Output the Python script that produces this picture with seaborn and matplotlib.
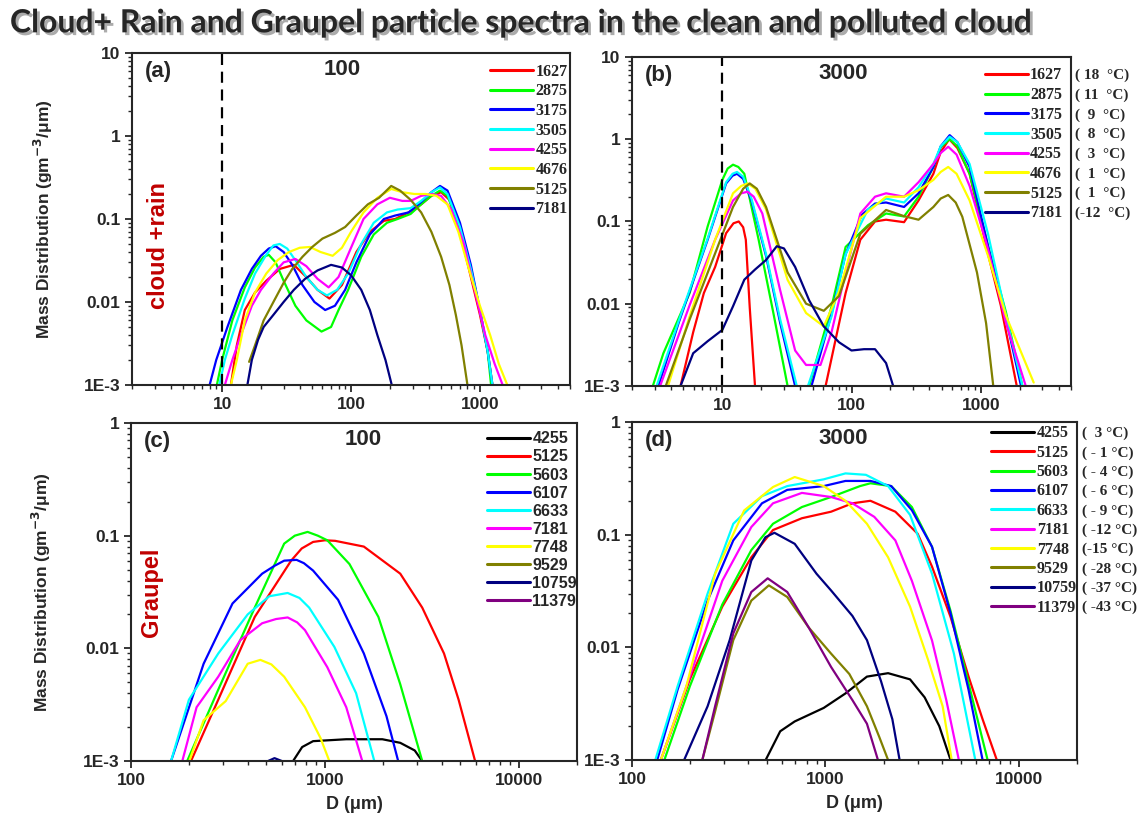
import matplotlib
matplotlib.use("Agg")
import matplotlib.pyplot as plt
import matplotlib.patheffects as pe
from matplotlib.lines import Line2D
from matplotlib.ticker import LogLocator, NullFormatter
import seaborn as sns

# ---------------- data ----------------
rain_labels = ["1627", "2875", "3175", "3505", "4255", "4676", "5125", "7181"]
rain_temps = ["( 18  °C)", "( 11  °C)", "(  9  °C)", "(  8  °C)",
              "(  3  °C)", "(  1  °C)", "(  1  °C)", "(-12  °C)"]
graupel_labels = ["4255", "5125", "5603", "6107", "6633", "7181", "7748",
                  "9529", "10759", "11379"]
graupel_temps = ["(  3 °C)", "( - 1 °C)", "( - 4 °C)", "( - 6 °C)", "( - 9 °C)",
                 "( -12 °C)", "(-15 °C)", "( -28 °C)", "( -37 °C)", "( -43 °C)"]

# panel (a): cloud + rain, CCN 100
a1627_d = [11.7, 13, 15, 18, 22, 28, 36, 45, 55, 68, 85, 110, 140, 180, 220, 280, 350, 420, 500, 580, 700, 850, 1000, 1150, 1250]
a1627_m = [1e-3, 0.003, 0.008, 0.013, 0.018, 0.025, 0.028, 0.02, 0.014, 0.011, 0.016, 0.04, 0.07, 0.095, 0.1, 0.12, 0.15, 0.19, 0.21, 0.17, 0.07, 0.02, 0.007, 0.0025, 1e-3]
a2875_d = [9.1, 10, 12, 15, 18, 21, 23, 26, 30, 37, 45, 59, 70, 80, 95, 120, 150, 190, 230, 290, 350, 420, 490, 560, 700, 850, 1000, 1150, 1220]
a2875_m = [1e-3, 0.002, 0.006, 0.015, 0.026, 0.035, 0.037, 0.03, 0.018, 0.009, 0.006, 0.0044, 0.005, 0.008, 0.014, 0.035, 0.065, 0.09, 0.1, 0.115, 0.15, 0.19, 0.22, 0.19, 0.08, 0.025, 0.008, 0.0025, 1e-3]
a3175_d = [8, 9, 11, 14, 17, 20, 23, 26, 30, 35, 42, 52, 63, 75, 90, 110, 140, 180, 220, 280, 350, 420, 490, 560, 700, 850, 1000, 1150, 1250]
a3175_m = [1e-3, 0.002, 0.005, 0.014, 0.025, 0.036, 0.044, 0.047, 0.04, 0.028, 0.016, 0.01, 0.008, 0.009, 0.014, 0.03, 0.065, 0.1, 0.11, 0.12, 0.16, 0.21, 0.25, 0.22, 0.09, 0.028, 0.008, 0.0025, 1e-3]
a3505_d = [9.5, 10.5, 12, 15, 18, 22, 25, 28, 32, 38, 45, 55, 65, 78, 95, 120, 150, 190, 230, 290, 350, 420, 490, 560, 700, 850, 1000, 1150, 1250]
a3505_m = [1e-3, 0.002, 0.004, 0.011, 0.022, 0.037, 0.048, 0.05, 0.044, 0.03, 0.02, 0.014, 0.012, 0.014, 0.022, 0.05, 0.09, 0.12, 0.13, 0.135, 0.165, 0.21, 0.24, 0.2, 0.08, 0.025, 0.008, 0.0025, 1e-3]
a4255_d = [10.5, 12, 14, 17, 20, 25, 30, 37, 45, 55, 67, 80, 100, 125, 160, 200, 250, 290, 350, 420, 500, 600, 750, 900, 1100, 1300, 1500]
a4255_m = [1e-3, 0.002, 0.004, 0.009, 0.014, 0.022, 0.03, 0.033, 0.027, 0.019, 0.015, 0.02, 0.045, 0.1, 0.15, 0.18, 0.165, 0.165, 0.19, 0.2, 0.19, 0.13, 0.05, 0.015, 0.004, 0.0018, 1e-3]
a4676_d = [11.7, 13, 15, 18, 22, 27, 33, 40, 48, 58, 72, 85, 100, 125, 160, 205, 250, 310, 380, 460, 560, 680, 820, 1000, 1200, 1400, 1630]
a4676_m = [1e-3, 0.002, 0.006, 0.013, 0.022, 0.032, 0.04, 0.045, 0.046, 0.04, 0.036, 0.045, 0.07, 0.12, 0.18, 0.23, 0.21, 0.2, 0.2, 0.19, 0.15, 0.07, 0.025, 0.009, 0.004, 0.0018, 1e-3]
a5125_d = [16.2, 18, 21, 25, 30, 35, 42, 50, 60, 75, 90, 110, 135, 165, 205, 240, 290, 350, 420, 500, 580, 650, 720, 800]
a5125_m = [0.0019, 0.003, 0.006, 0.01, 0.017, 0.025, 0.035, 0.046, 0.058, 0.068, 0.08, 0.11, 0.15, 0.18, 0.25, 0.22, 0.17, 0.12, 0.07, 0.035, 0.016, 0.007, 0.003, 1e-3]
a7181_d = [15.7, 17, 19, 21, 25, 30, 36, 44, 55, 70, 85, 100, 120, 140, 160, 185, 207]
a7181_m = [1e-3, 0.002, 0.0035, 0.005, 0.007, 0.01, 0.014, 0.019, 0.024, 0.028, 0.026, 0.021, 0.014, 0.008, 0.004, 0.002, 1e-3]

# panel (b): cloud + rain, CCN 3000 (None separates the two modes)
b1627_d = [4.75, 5.95, 7.2, 8.8, 10.7, 12.2, 13.4, 14.5, 15.2, 16.3, 17.9, None, 63, 90, 117, 152, 185, 255, 330, 430, 490, 570, 660, 820, 1140, 1430, 1900]
b1627_m = [1e-3, 0.0045, 0.0135, 0.028, 0.072, 0.095, 0.1, 0.085, 0.06, 0.009, 1e-3, None, 1e-3, 0.0135, 0.06, 0.1, 0.105, 0.098, 0.18, 0.38, 0.7, 1.0, 0.78, 0.38, 0.04, 0.0095, 1e-3]
b2875_d = [2.9, 3.5, 5.6, 7.7, 10, 11, 12.1, 13.3, 14.8, 19.1, 24.8, 32, None, 47, 70, 90, 134, 185, 255, 330, 430, 490, 575, 660, 820, 1140, 1570, 2100]
b2875_m = [1e-3, 0.0025, 0.0136, 0.087, 0.32, 0.44, 0.49, 0.46, 0.38, 0.06, 0.0078, 1e-3, None, 1e-3, 0.0092, 0.049, 0.09, 0.125, 0.115, 0.2, 0.46, 0.8, 1.0, 0.82, 0.38, 0.05, 0.0078, 1e-3]
b3175_d = [3.2, 4.6, 7.7, 10.7, 12, 13, 14.5, 16.8, 21.8, 28, 36.6, None, 49, 70, 90, 120, 152, 185, 255, 330, 430, 490, 575, 660, 820, 1140, 1570, 2050]
b3175_m = [1e-3, 0.0059, 0.06, 0.29, 0.36, 0.38, 0.33, 0.18, 0.038, 0.0059, 1e-3, None, 1e-3, 0.0075, 0.04, 0.12, 0.165, 0.17, 0.15, 0.22, 0.46, 0.82, 1.12, 0.92, 0.46, 0.05, 0.0065, 1e-3]
b3505_d = [3.1, 4.6, 7.7, 10.7, 12, 13, 14.5, 16.8, 21.8, 28, 37.7, None, 46, 70, 90, 134, 185, 255, 330, 430, 490, 575, 660, 820, 1140, 1570, 2100]
b3505_m = [1e-3, 0.0062, 0.062, 0.3, 0.38, 0.4, 0.35, 0.19, 0.04, 0.0065, 1e-3, None, 1e-3, 0.007, 0.04, 0.14, 0.19, 0.17, 0.26, 0.5, 0.82, 1.07, 0.92, 0.5, 0.07, 0.007, 1e-3]
b4255_d = [3.3, 5.6, 8.8, 12.1, 14, 15.7, 17.5, 20.4, 28, 36.6, 44.5, 57.5, 70, 90, 117, 152, 185, 255, 330, 430, 490, 560, 650, 820, 1140, 1570, 2230]
b4255_m = [1e-3, 0.0097, 0.06, 0.18, 0.22, 0.23, 0.2, 0.125, 0.0147, 0.0027, 0.0018, 0.0018, 0.0045, 0.024, 0.125, 0.2, 0.22, 0.2, 0.3, 0.5, 0.68, 0.81, 0.65, 0.27, 0.046, 0.0058, 1e-3]
b4676_d = [3.8, 5.6, 8.8, 12.1, 14, 15.7, 18, 21.8, 32, 44.5, 61, 80, 117, 185, 255, 330, 430, 490, 560, 650, 820, 1140, 1570, 2570]
b4676_m = [1e-3, 0.0071, 0.06, 0.22, 0.27, 0.29, 0.25, 0.14, 0.0195, 0.0077, 0.0053, 0.014, 0.11, 0.2, 0.2, 0.24, 0.32, 0.4, 0.46, 0.38, 0.18, 0.038, 0.0071, 1.1e-3]
b5125_d = [3.65, 5.6, 8.8, 12.1, 14.5, 16.3, 18.5, 21.8, 32, 44.5, 61, 80, 117, 185, 255, 330, 430, 490, 560, 640, 720, 935, 1100, 1250]
b5125_m = [1e-3, 0.0065, 0.041, 0.15, 0.25, 0.29, 0.25, 0.15, 0.024, 0.01, 0.0082, 0.0124, 0.071, 0.138, 0.116, 0.105, 0.15, 0.19, 0.21, 0.17, 0.114, 0.024, 0.0058, 1e-3]
b7181_d = [4.75, 5.95, 7.7, 10, 12.1, 14.8, 17.9, 21.8, 26.4, 30, 36.6, 47, 61, 80, 100, 125, 152, 185, 210]
b7181_m = [1e-3, 0.0025, 0.0035, 0.0048, 0.0093, 0.0196, 0.026, 0.034, 0.05, 0.047, 0.028, 0.011, 0.0053, 0.0034, 0.0027, 0.0028, 0.0028, 0.0019, 1e-3]

# panel (c): graupel, CCN 100
c4255_d = [686, 764, 870, 1290, 1980, 2450, 2910, 3180]
c4255_m = [1e-3, 1.33e-3, 1.5e-3, 1.56e-3, 1.56e-3, 1.45e-3, 1.24e-3, 1e-3]
c5125_d = [204, 282, 435, 670, 760, 870, 1000, 1130, 1590, 2450, 3180, 4120, 4900, 5960]
c5125_m = [1e-3, 0.0035, 0.019, 0.06, 0.077, 0.088, 0.091, 0.09, 0.08, 0.046, 0.023, 0.009, 0.0035, 1e-3]
c5603_d = [195, 282, 435, 617, 700, 815, 920, 1030, 1340, 1890, 2450, 3180]
c5603_m = [1e-3, 0.0043, 0.023, 0.085, 0.1, 0.108, 0.1, 0.091, 0.056, 0.019, 0.0048, 1e-3]
c6107_d = [161, 237, 334, 475, 550, 617, 715, 780, 870, 1170, 1590, 2080, 2390]
c6107_m = [1e-3, 0.0073, 0.025, 0.046, 0.054, 0.06, 0.061, 0.057, 0.049, 0.027, 0.009, 0.0025, 1e-3]
c6633_d = [161, 199, 282, 400, 517, 643, 740, 830, 1120, 1450, 1800]
c6633_m = [1e-3, 0.0035, 0.009, 0.02, 0.029, 0.031, 0.028, 0.023, 0.0103, 0.004, 1e-3]
c7181_d = [184, 218, 282, 366, 475, 560, 643, 720, 790, 1030, 1290, 1560]
c7181_m = [1e-3, 0.003, 0.0056, 0.0118, 0.0167, 0.0182, 0.0188, 0.017, 0.0145, 0.0068, 0.003, 1e-3]
c7748_d = [200, 237, 308, 400, 465, 530, 617, 790, 950, 1055]
c7748_m = [1e-3, 0.0023, 0.0034, 0.0073, 0.0079, 0.0072, 0.0056, 0.003, 1.6e-3, 1e-3]
c9529_d, c9529_m = [], []
c10759_d = [510, 550, 600]
c10759_m = [1e-3, 1.06e-3, 1e-3]
c11379_d, c11379_m = [], []

# panel (d): graupel, CCN 3000
d4255_d = [491, 584, 694, 980, 1270, 1640, 2110, 2740, 3260, 3880, 4440]
d4255_m = [1e-3, 0.0018, 0.0022, 0.0029, 0.0039, 0.0055, 0.0059, 0.0052, 0.0036, 0.002, 1e-3]
d5125_d = [141, 199, 293, 414, 536, 756, 1070, 1380, 1710, 2300, 3000, 3560, 4440, 5500, 6500, 7700]
d5125_m = [1e-3, 0.0052, 0.023, 0.063, 0.11, 0.14, 0.16, 0.19, 0.2, 0.16, 0.102, 0.052, 0.0186, 0.0055, 0.0023, 1e-3]
d5603_d = [147, 199, 293, 414, 536, 756, 1070, 1510, 1710, 2190, 2800, 3560, 4440, 5500, 6900]
d5603_m = [1e-3, 0.0045, 0.024, 0.073, 0.125, 0.176, 0.216, 0.27, 0.286, 0.27, 0.176, 0.078, 0.021, 0.0048, 1e-3]
d6107_d = [135, 172, 246, 334, 470, 635, 980, 1270, 1710, 2190, 2800, 3560, 4440, 5500, 6500]
d6107_m = [1e-3, 0.0042, 0.026, 0.089, 0.19, 0.25, 0.27, 0.3, 0.3, 0.27, 0.165, 0.078, 0.02, 0.0042, 1e-3]
d6633_d = [132, 172, 246, 334, 470, 635, 980, 1270, 1620, 2110, 2740, 3560, 4620, 5960]
d6633_m = [1e-3, 0.0045, 0.03, 0.125, 0.22, 0.27, 0.31, 0.35, 0.34, 0.27, 0.15, 0.045, 0.0088, 1e-3]
d7181_d = [141, 199, 293, 414, 536, 756, 1070, 1380, 1790, 2300, 2800, 3560, 4220, 4900]
d7181_m = [1e-3, 0.0055, 0.039, 0.117, 0.19, 0.235, 0.216, 0.19, 0.144, 0.089, 0.039, 0.0115, 0.0034, 1e-3]
d7748_d = [141, 191, 269, 380, 536, 694, 980, 1270, 1640, 2110, 2740, 3400, 4040, 4500]
d7748_m = [1e-3, 0.0045, 0.045, 0.164, 0.265, 0.325, 0.27, 0.2, 0.125, 0.063, 0.023, 0.0077, 0.003, 1e-3]
d9529_d = [231, 269, 334, 414, 510, 635, 820, 1070, 1330, 1640, 1900, 2110]
d9529_m = [1e-3, 0.0027, 0.0116, 0.026, 0.0355, 0.028, 0.015, 0.0088, 0.0058, 0.003, 0.0016, 1e-3]
d10759_d = [186, 246, 320, 414, 490, 545, 694, 900, 1070, 1380, 1640, 1940, 2220, 2420]
d10759_m = [1e-3, 0.003, 0.0116, 0.059, 0.095, 0.104, 0.083, 0.045, 0.032, 0.019, 0.0116, 0.005, 0.0023, 1e-3]
d11379_d = [231, 269, 334, 414, 503, 635, 820, 1070, 1380, 1640, 1870]
d11379_m = [1e-3, 0.003, 0.0133, 0.031, 0.041, 0.031, 0.015, 0.0067, 0.0034, 0.0021, 1e-3]

rain_yticks = [10, 1, 0.1, 0.01, 0.001]
rain_yticklabels = ["10", "1", "0.1", "0.01", "1E-3"]
rain_xticks = [10, 100, 1000]
graupel_yticks = [1, 0.1, 0.01, 0.001]
graupel_yticklabels = ["1", "0.1", "0.01", "1E-3"]
graupel_xticks = [100, 1000, 10000]

# ---------------- styling ----------------
rain_colors = ["#FF0000", "#00FF00", "#0000FF", "#00FFFF", "#FF00FF",
               "#FFFF00", "#808000", "#000080"]
graupel_colors = ["#000000", "#FF0000", "#00FF00", "#0000FF", "#00FFFF",
                  "#FF00FF", "#FFFF00", "#808000", "#000080", "#800080"]

sns.set_style("ticks")
plt.rcParams["font.family"] = ["Liberation Sans", "DejaVu Sans"]
plt.rcParams["font.weight"] = "bold"
plt.rcParams["axes.linewidth"] = 1.5
plt.rcParams["xtick.major.width"] = 1.3
plt.rcParams["ytick.major.width"] = 1.3
plt.rcParams["xtick.minor.width"] = 1.0
plt.rcParams["ytick.minor.width"] = 1.0
plt.rcParams["xtick.major.size"] = 5
plt.rcParams["ytick.major.size"] = 5
plt.rcParams["xtick.minor.size"] = 3
plt.rcParams["ytick.minor.size"] = 3

fig = plt.figure(figsize=(11.41, 8.16), dpi=100)
ax_a = fig.add_axes([0.1157, 0.5282, 0.3839, 0.4069])
ax_b = fig.add_axes([0.5539, 0.5270, 0.3848, 0.4032])
ax_c = fig.add_axes([0.1148, 0.0674, 0.3909, 0.4142])
ax_d = fig.add_axes([0.5539, 0.0686, 0.3900, 0.4142])

rain_a = [(a1627_d, a1627_m), (a2875_d, a2875_m), (a3175_d, a3175_m), (a3505_d, a3505_m),
          (a4255_d, a4255_m), (a4676_d, a4676_m), (a5125_d, a5125_m), (a7181_d, a7181_m)]
rain_b = [(b1627_d, b1627_m), (b2875_d, b2875_m), (b3175_d, b3175_m), (b3505_d, b3505_m),
          (b4255_d, b4255_m), (b4676_d, b4676_m), (b5125_d, b5125_m), (b7181_d, b7181_m)]
graupel_c = [(c4255_d, c4255_m), (c5125_d, c5125_m), (c5603_d, c5603_m), (c6107_d, c6107_m),
             (c6633_d, c6633_m), (c7181_d, c7181_m), (c7748_d, c7748_m), (c9529_d, c9529_m),
             (c10759_d, c10759_m), (c11379_d, c11379_m)]
graupel_d = [(d4255_d, d4255_m), (d5125_d, d5125_m), (d5603_d, d5603_m), (d6107_d, d6107_m),
             (d6633_d, d6633_m), (d7181_d, d7181_m), (d7748_d, d7748_m), (d9529_d, d9529_m),
             (d10759_d, d10759_m), (d11379_d, d11379_m)]


def split_segments(d, m):
    # a None in the lists separates two modes of one curve
    segs, cur = [], ([], [])
    for x, y in zip(d, m):
        if x is None:
            segs.append(cur)
            cur = ([], [])
        else:
            cur[0].append(x)
            cur[1].append(y)
    segs.append(cur)
    return [s for s in segs if len(s[0])]


def draw_panel(ax, curves, colors, xlim, ylim, xticks, yticks, yticklabels):
    ax.set_xscale("log")
    ax.set_yscale("log")
    for (d, m), c in zip(curves, colors):
        for sd, sm in split_segments(d, m):
            sns.lineplot(x=sd, y=sm, ax=ax, color=c, linewidth=1.6,
                         estimator=None, sort=False, legend=False)
    ax.set_xlim(*xlim)
    ax.set_ylim(*ylim)
    ax.set_xticks(xticks, [str(t) for t in xticks])
    ax.set_yticks(yticks, yticklabels)
    ax.xaxis.set_minor_locator(LogLocator(base=10, subs=range(2, 10), numticks=20))
    ax.yaxis.set_minor_locator(LogLocator(base=10, subs=range(2, 10), numticks=20))
    ax.xaxis.set_minor_formatter(NullFormatter())
    ax.yaxis.set_minor_formatter(NullFormatter())
    ax.tick_params(axis="both", which="both", direction="out", top=False, right=False,
                   labelsize=12.5)
    for lab in ax.get_xticklabels() + ax.get_yticklabels():
        lab.set_fontweight("bold")
    for s in ax.spines.values():
        s.set_visible(True)
        s.set_linewidth(1.5)


def add_legend(ax, labels, colors, family, anchor, spacing):
    handles = [Line2D([], [], color=c, lw=2.2) for c in colors]
    leg = ax.legend(handles, labels, loc="upper right", bbox_to_anchor=anchor,
                    frameon=False, handlelength=2.7, handletextpad=0.15,
                    labelspacing=spacing, borderaxespad=0.0, borderpad=0.0,
                    prop={"family": family, "weight": "bold", "size": 11.5})
    return leg


draw_panel(ax_a, rain_a, rain_colors, (2, 5000), (1e-3, 10), rain_xticks, rain_yticks, rain_yticklabels)
draw_panel(ax_b, rain_b, rain_colors, (2, 5000), (1e-3, 10), rain_xticks, rain_yticks, rain_yticklabels)
draw_panel(ax_c, graupel_c, graupel_colors, (100, 20000), (1e-3, 1), graupel_xticks, graupel_yticks, graupel_yticklabels)
draw_panel(ax_d, graupel_d, graupel_colors, (100, 20000), (1e-3, 1), graupel_xticks, graupel_yticks, graupel_yticklabels)

for ax in (ax_a, ax_b):
    ax.axvline(10, color="black", lw=1.6, ls=(0, (5, 3)))

leg_a = add_legend(ax_a, rain_labels, rain_colors, "Liberation Serif", (0.995, 0.968), 0.23)
leg_b = add_legend(ax_b, rain_labels, rain_colors, "Liberation Serif", (0.98, 0.968), 0.23)
leg_c = add_legend(ax_c, graupel_labels, graupel_colors, "Liberation Sans", (1.0, 0.975), 0.19)
leg_d = add_legend(ax_d, graupel_labels, graupel_colors, "Liberation Serif", (1.0, 0.99), 0.21)

# panel tags and CCN numbers
for ax, tag, num, xn in [(ax_a, "(a)", "100", 0.48), (ax_b, "(b)", "3000", 0.48),
                         (ax_c, "(c)", "100", 0.52), (ax_d, "(d)", "3000", 0.475)]:
    ax.text(0.03, 0.945, tag, transform=ax.transAxes, fontsize=16, fontweight="bold",
            ha="left", va="center")
    ax.text(xn, 0.95, num, transform=ax.transAxes, fontsize=16, fontweight="bold",
            ha="center", va="center")

ax_a.text(0.06, 0.42, "cloud +rain", transform=ax_a.transAxes, rotation=90,
          color="#C00000", fontsize=17, fontweight="bold", ha="center", va="center")
ax_c.text(0.045, 0.5, "Graupel", transform=ax_c.transAxes, rotation=90,
          color="#C00000", fontsize=17, fontweight="bold", ha="center", va="center")

for ax in (ax_a, ax_c):
    ax.set_ylabel("Mass Distribution (gm$^{-3}$/μm)", fontsize=12.5, fontweight="bold")
    ax.yaxis.set_label_coords(-0.175, 0.5)
for ax in (ax_c, ax_d):
    ax.set_xlabel("D (μm)", fontsize=13, fontweight="bold", labelpad=6)

title = fig.text(0.458, 0.972,
                 "Cloud+ Rain and Graupel particle spectra in the clean and polluted cloud",
                 ha="center", va="center", fontsize=23, fontweight="bold",
                 family=["Lato", "DejaVu Sans"])
title.set_path_effects([pe.withSimplePatchShadow(offset=(2, -2), shadow_rgbFace="0.45", alpha=0.6)])

# temperatures next to the legends of (b) and (d), outside the axes
fig.canvas.draw()
H = fig.get_figheight() * fig.dpi
W = fig.get_figwidth() * fig.dpi
for leg, temps, xpx in [(leg_b, rain_temps, 1075), (leg_d, graupel_temps, 1082)]:
    for txt, temp in zip(leg.get_texts(), temps):
        bb = txt.get_window_extent()
        yc = (bb.y0 + bb.y1) / 2 / H
        fig.text(xpx / W, yc, temp, ha="left", va="center", fontsize=11,
                 fontweight="bold", family="Liberation Serif")

fig.savefig("out.png", dpi=100)
